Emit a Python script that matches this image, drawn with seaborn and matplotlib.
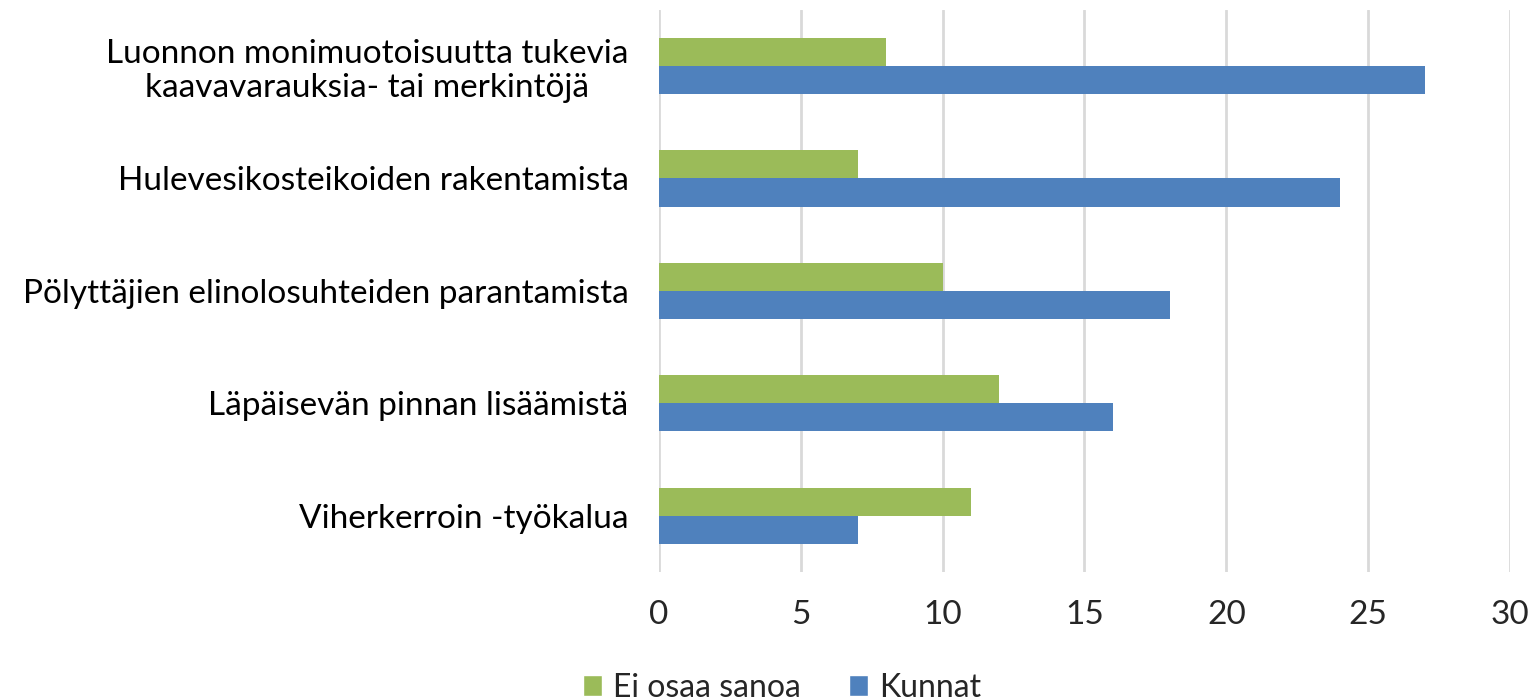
import matplotlib
matplotlib.use("Agg")
import matplotlib.pyplot as plt
import seaborn as sns
import pandas as pd
from matplotlib.patches import Patch

categories = [
    "Luonnon monimuotoisuutta tukevia\nkaavavarauksia- tai merkintöjä",
    "Hulevesikosteikoiden rakentamista",
    "Pölyttäjien elinolosuhteiden parantamista",
    "Läpäisevän pinnan lisäämistä",
    "Viherkerroin -työkalua",
]
series_names = ["Ei osaa sanoa", "Kunnat"]
ei_osaa_sanoa = [8, 7, 10, 12, 11]
kunnat = [27, 24, 18, 16, 7]
x_ticks = [0, 5, 10, 15, 20, 25, 30]
colors = ["#9BBB59", "#4F81BD"]

rows = []
for c, v in zip(categories, ei_osaa_sanoa):
    rows.append({"cat": c, "series": series_names[0], "value": v})
for c, v in zip(categories, kunnat):
    rows.append({"cat": c, "series": series_names[1], "value": v})
df = pd.DataFrame(rows)

sns.set_theme(style="white")
plt.rcParams["font.family"] = ["Lato", "DejaVu Sans"]

fig = plt.figure(figsize=(15.31, 7.0), dpi=100)
ax = fig.add_axes([0.4304, 0.183, 0.9863 - 0.4304, 0.986 - 0.183])

sns.barplot(data=df, y="cat", x="value", hue="series", order=categories,
            hue_order=series_names, palette=colors, orient="h", width=0.5,
            saturation=1, ax=ax, legend=False, linewidth=0)

ax.set_xlim(0, 30)
ax.set_ylim(4.5, -0.5)
ax.set_xticks(x_ticks)
ax.set_xticklabels([str(t) for t in x_ticks])
ax.grid(axis="x", color="#D9D9D9", linewidth=2)
ax.grid(axis="y", visible=False)
ax.set_axisbelow(True)
for s in ax.spines.values():
    s.set_visible(False)
ax.set_xlabel("")
ax.set_ylabel("")
ax.tick_params(axis="y", length=0, pad=22, labelsize=24, colors="#000000")
ax.tick_params(axis="x", length=0, pad=20, labelsize=24, colors="#262626")
for lab in ax.get_yticklabels():
    lab.set_horizontalalignment("right")
    lab.set_multialignment("center")
    lab.set_linespacing(1.15)
    lab.set_color("#000000")

handles = [Patch(facecolor=colors[0]), Patch(facecolor=colors[1])]
fig.legend(handles, series_names, loc="lower center", bbox_to_anchor=(0.511, -0.045),
           ncol=2, frameon=False, fontsize=23, handlelength=0.6, handleheight=0.6,
           columnspacing=1.5, handletextpad=0.35)

fig.savefig("out.png", dpi=100)
